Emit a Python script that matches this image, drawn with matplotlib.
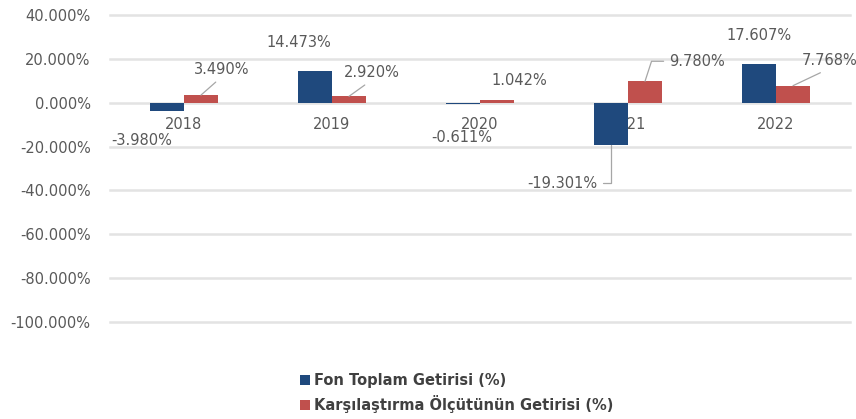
import matplotlib
matplotlib.use("Agg")
import matplotlib.pyplot as plt
import numpy as np

years = ["2018", "2019", "2020", "2021", "2022"]
fon = [-3.980, 14.473, -0.611, -19.301, 17.607]
bench = [3.490, 2.920, 1.042, 9.780, 7.768]
series_names = ["Fon Toplam Getirisi (%)", "Karşılaştırma Ölçütünün Getirisi (%)"]
yticks = [40, 20, 0, -20, -40, -60, -80, -100]

# label offsets (pixels) relative to bar end
fon_offsets = [(-25, -29), (-16, 28), (-1, -33), (-49, -38), (0, 29)]
bench_offsets = [(21, 26), (23, 24), (22, 20), (52, 20), (37, 25)]

blue = "#1F497D"
red = "#C0504D"
gray_txt = "#595959"

fig = plt.figure(figsize=(8.56, 4.19), dpi=100)
ax = fig.add_axes([110/856, 1-322/419, 740/856, 307/419])

x = np.arange(len(years))
w = 0.23
b1 = ax.bar(x - w/2, fon, width=w, color=blue, label=series_names[0], zorder=3)
b2 = ax.bar(x + w/2, bench, width=w, color=red, label=series_names[1], zorder=3)

ax.set_xlim(-0.5, len(years) - 0.5)
ax.set_ylim(-100, 40)
ax.set_yticks(yticks)
ax.set_yticklabels([f"{t:.3f}%" for t in yticks], color=gray_txt, fontsize=10.5)
ax.tick_params(axis="y", length=0, pad=14)
ax.set_xticks([])
for s in ax.spines.values():
    s.set_visible(False)
for t in yticks:
    ax.axhline(t, color="#e3e3e3", lw=1.8, zorder=1, clip_on=False)

# category labels near zero line
for xi, yr in zip(x, years):
    ax.annotate(yr, (xi, 0), xytext=(0, -22), textcoords="offset pixels",
                ha="center", va="center", color=gray_txt, fontsize=10.5, zorder=2)

def lab(xi, v, off, leader=None):
    kw = dict(textcoords="offset pixels", ha="center", va="center",
              color=gray_txt, fontsize=10.5, zorder=4)
    if leader is not None:
        kw["arrowprops"] = leader
    ax.annotate(f"{v:.3f}%", (xi, v), xytext=off, **kw)

straight = dict(arrowstyle="-", color="#a6a6a6", lw=0.9, relpos=(0.5, 0.0),
                shrinkA=3, shrinkB=0)
for i in range(len(years)):
    lab(x[i] - w/2, fon[i], fon_offsets[i],
        dict(arrowstyle="-", color="#a6a6a6", lw=0.9, relpos=(1.0, 0.5),
             connectionstyle="angle,angleA=0,angleB=90,rad=0", shrinkA=2, shrinkB=0)
        if i == 3 else None)
    if i == 3:
        lead = dict(arrowstyle="-", color="#a6a6a6", lw=0.9, relpos=(0.0, 0.5),
                    connectionstyle="angle,angleA=0,angleB=72,rad=0", shrinkA=2, shrinkB=0)
    else:
        lead = straight
    lab(x[i] + w/2, bench[i], bench_offsets[i], lead if i != 2 else None)

fig.legend(handles=[b1, b2], labels=series_names, loc="upper left",
           bbox_to_anchor=(294/856, 1-367/419), frameon=False, ncol=1,
           handlelength=0.7, handleheight=0.7, handletextpad=0.3,
           labelspacing=0.5, borderaxespad=0,
           prop=dict(weight="bold", size=10.5), labelcolor="#404040")

fig.savefig("out.png", dpi=100)
